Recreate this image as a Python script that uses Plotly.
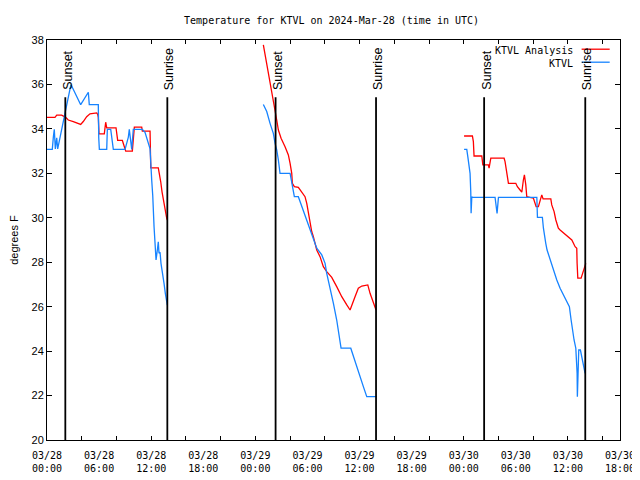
import plotly.graph_objects as go
import pandas as pd

BASE = "2024-03-28 00:00"

# ---- data (hours since 2024-03-28 00:00 UTC, degrees F) ----
analysis_hours = [
    0.00, 0.92, 1.12, 1.69, 2.15, 2.45, 3.03, 3.60, 3.88, 4.18, 4.57, 4.95, 5.73, 5.84, 5.91,
    5.99, 6.60, 6.76, 6.88, 7.95, 8.03, 8.14, 8.68, 8.79, 8.99, 9.07, 9.83, 9.94, 10.06, 10.91,
    10.98, 11.87, 11.95, 12.82, 12.94, 13.10, 13.25, 13.40, 13.59, 13.79, 13.86,
    None,
    24.92, 26.35, 26.46, 26.65, 26.96, 27.42, 27.80, 28.00, 28.19, 28.26, 28.49, 28.95, 29.34,
    29.72, 29.92, 30.10, 30.30, 30.49, 30.68, 31.07, 31.45, 31.83, 32.22, 32.80, 33.37, 33.95,
    34.53, 34.91, 35.48, 35.86, 36.26, 36.95, 37.21, 37.59, 37.90,
    None,
    48.04, 49.00, 49.11, 49.19, 50.08, 50.20, 50.84, 50.92, 51.12, 52.65, 52.76, 52.96, 53.15,
    54.00, 54.18, 54.49, 54.69, 54.87, 54.99, 55.15, 55.26, 56.03, 56.22, 56.34, 56.60, 56.80,
    56.99, 57.14, 58.03, 58.14, 58.41, 58.61, 58.90, 59.10, 59.48, 59.79, 60.06, 60.45, 60.83,
    61.02, 61.06, 61.14, 61.52, 61.78, 62.06,
]
analysis_temp = [
    34.52, 34.52, 34.62, 34.62, 34.52, 34.40, 34.33, 34.25, 34.20, 34.33, 34.55, 34.68, 34.72, 34.65, 34.52,
    33.78, 33.78, 34.30, 34.05, 34.05, 33.78, 33.48, 33.48, 33.33, 33.13, 33.00, 33.00, 33.78, 34.08, 34.08,
    33.90, 33.90, 32.25, 32.25, 32.00, 31.62, 31.17, 30.80, 30.35, 29.97, 29.90,
    None,
    37.78, 34.78, 34.40, 33.95, 33.58, 33.20, 32.83, 32.45, 32.00, 31.55, 31.40, 31.37, 31.18,
    30.95, 30.65, 30.20, 29.75, 29.38, 29.15, 28.55, 28.25, 27.80, 27.58, 27.32, 26.90, 26.45,
    26.08, 25.85, 26.45, 26.83, 26.93, 26.98, 26.60, 26.15, 25.85,
    None,
    33.68, 33.68, 33.43, 32.78, 32.78, 32.38, 32.38, 32.23, 32.68, 32.68, 32.53, 32.08, 31.55,
    31.55, 31.40, 31.25, 31.15, 31.70, 31.93, 31.48, 30.95, 30.88, 30.58, 30.50, 30.50, 30.80,
    31.03, 30.85, 30.85, 30.58, 30.28, 29.90, 29.53, 29.45, 29.33, 29.23, 29.15, 29.00, 28.70,
    28.63, 27.95, 27.28, 27.28, 27.58, 27.95,
]

obs_hours = [
    0.00, 0.61, 0.73, 0.84, 0.96, 1.12, 1.23, 2.76, 3.88, 4.76, 4.87, 5.91, 5.96, 6.03, 6.88,
    6.95, 7.34, 7.64, 8.99, 9.37, 9.48, 9.76, 9.94, 10.98, 11.29, 11.87, 12.06, 12.18, 12.33,
    12.44, 12.56, 12.71, 12.82, 12.90, 13.02, 13.13, 13.33, 13.48, 13.63, 13.79, 13.86,
    None,
    24.92, 25.31, 25.69, 26.07, 26.27, 26.46, 26.65, 26.84, 28.00, 28.19, 28.38, 28.49, 28.95,
    29.15, 29.53, 29.92, 30.30, 30.68, 31.07, 31.65, 32.03, 32.22, 32.60, 32.99, 33.37, 33.76,
    33.87, 34.99, 35.29, 35.68, 36.06, 36.44, 36.83, 37.96,
    None,
    48.04, 48.35, 48.47, 48.62, 48.73, 48.81, 48.85, 48.93, 49.00, 51.61, 51.73, 51.84, 52.00,
    56.42, 56.49, 57.06, 57.18, 57.29, 57.45, 57.60, 57.95, 58.33, 58.72, 59.10, 59.48, 59.87,
    60.17, 60.37, 60.52, 60.71, 60.91, 61.06, 61.09, 61.17, 61.25, 61.44, 61.60, 61.79, 61.98,
]
obs_temp = [
    33.08, 33.08, 33.63, 33.98, 33.10, 33.60, 33.10, 36.00, 35.09, 35.65, 35.09, 35.09, 33.60, 33.08, 33.08,
    33.98, 33.98, 33.08, 33.08, 33.63, 33.98, 33.08, 33.98, 33.98, 33.85, 33.10, 31.70, 31.00, 29.60,
    28.70, 28.10, 28.55, 28.92, 28.40, 28.45, 27.95, 27.50, 27.05, 26.60, 26.20, 26.07,
    None,
    35.10, 34.78, 34.25, 33.80, 33.35, 33.05, 32.60, 32.00, 32.00, 31.55, 31.18, 30.95, 30.95,
    30.73, 30.35, 29.90, 29.45, 29.00, 28.63, 28.33, 27.95, 27.50, 26.90, 26.15, 25.40, 24.50,
    24.13, 24.13, 23.75, 23.30, 22.85, 22.40, 21.95, 21.95,
    None,
    33.08, 33.08, 32.75, 32.18, 32.00, 31.18, 30.20, 30.95, 30.92, 30.92, 30.50, 30.20, 30.92,
    30.92, 30.02, 30.02, 29.53, 29.15, 28.85, 28.55, 28.10, 27.65, 27.20, 26.83, 26.53, 26.23,
    26.00, 25.40, 24.95, 24.50, 24.13, 23.00, 21.95, 23.00, 24.05, 24.05, 23.75, 23.45, 23.00,
]

sunset_hours = [2.11, 26.33, 50.35]
sunrise_hours = [13.86, 37.90, 62.00]

tick_hours = [0, 6, 12, 18, 24, 30, 36, 42, 48, 54, 60, 66]
minor_tick_hours = list(range(0, 67, 4))
y_ticks = [20, 22, 24, 26, 28, 30, 32, 34, 36, 38]
x_range_hours = [0, 66]
y_range = [20, 38]

# ---- build ----
base = pd.Timestamp(BASE)


def to_time(h):
    return None if h is None else base + pd.Timedelta(hours=h)


RED = "#ff0000"
BLUE = "#1683ff"

fig = go.Figure()
fig.add_trace(go.Scatter(x=[to_time(h) for h in analysis_hours], y=analysis_temp,
                         mode="lines", line=dict(color=RED, width=1.3),
                         name="KTVL Analysis", connectgaps=False, showlegend=False))
fig.add_trace(go.Scatter(x=[to_time(h) for h in obs_hours], y=obs_temp,
                         mode="lines", line=dict(color=BLUE, width=1.3),
                         name="KTVL", connectgaps=False, showlegend=False))
# dummy trace to carry the label axis
fig.add_trace(go.Scatter(x=[to_time(0)], y=[None], xaxis="x2", yaxis="y",
                         mode="lines", showlegend=False, hoverinfo="skip"))

shapes = []
annotations = []
for hs, label in ((sunset_hours, "Sunset"), (sunrise_hours, "Sunrise")):
    for h in hs:
        t = to_time(h)
        shapes.append(dict(type="line", xref="x", yref="paper", x0=t, x1=t,
                           y0=0, y1=0.857, line=dict(color="black", width=1.8)))
        annotations.append(dict(text=label, x=t, xref="x", y=0.87, yref="paper",
                                textangle=-90, xanchor="center", yanchor="bottom",
                                xshift=2, showarrow=False,
                                font=dict(family="Liberation Sans", size=12.5, color="black")))

# legend drawn gnuplot-style (text then sample)
legend_items = [("KTVL Analysis", RED, 0.975), ("KTVL", BLUE, 0.9425)]
for name, col, yp in legend_items:
    annotations.append(dict(text=name, x=0.922, xref="paper", y=yp, yref="paper",
                            xanchor="right", yanchor="middle", showarrow=False,
                            font=dict(family="DejaVu Sans Mono", size=10, color="black")))
    shapes.append(dict(type="line", xref="paper", yref="paper", x0=0.933, x1=0.982,
                       y0=yp + 0.002, y1=yp + 0.002, line=dict(color=col, width=1.3)))

# the page adds an 8px body margin, so the figure is sized/offset to compensate
fig.update_layout(
    width=632, height=472,
    margin=dict(l=39, r=20, t=32, b=40, autoexpand=False),
    paper_bgcolor="white", plot_bgcolor="white",
    title=dict(text="Temperature for KTVL on 2024-Mar-28 (time in UTC)",
               x=0.512, xanchor="center", y=0.974, yanchor="middle",
               font=dict(family="DejaVu Sans Mono", size=10, color="black")),
    xaxis=dict(type="date", range=[to_time(x_range_hours[0]), to_time(x_range_hours[1])],
               tickmode="array", tickvals=[to_time(h) for h in minor_tick_hours],
               showticklabels=False, ticks="inside", ticklen=4, tickcolor="black",
               showline=True, linecolor="black", linewidth=1, mirror="ticks",
               showgrid=False, zeroline=False, automargin=False),
    xaxis2=dict(type="date", overlaying="x", side="bottom",
                range=[to_time(x_range_hours[0]), to_time(x_range_hours[1])],
                tickmode="array", tickvals=[to_time(h) for h in tick_hours],
                ticktext=[to_time(h).strftime("%m/%d<br>%H:%M") for h in tick_hours],
                ticks="", showline=False, showgrid=False, zeroline=False, automargin=False,
                ticklabelstandoff=8,
                tickfont=dict(family="DejaVu Sans Mono", size=10, color="black")),
    yaxis=dict(range=y_range, tickmode="array", tickvals=y_ticks,
               ticks="inside", ticklen=5, tickcolor="black",
               showline=True, linecolor="black", linewidth=1, mirror="ticks",
               showgrid=False, zeroline=False, automargin=False,
               tickfont=dict(family="Liberation Sans", size=11, color="black"),
               title=dict(text="degrees F", standoff=17,
                          font=dict(family="Liberation Sans", size=11, color="black"))),
    shapes=shapes,
    annotations=annotations,
    showlegend=False,
)

fig.write_html("out.html")
